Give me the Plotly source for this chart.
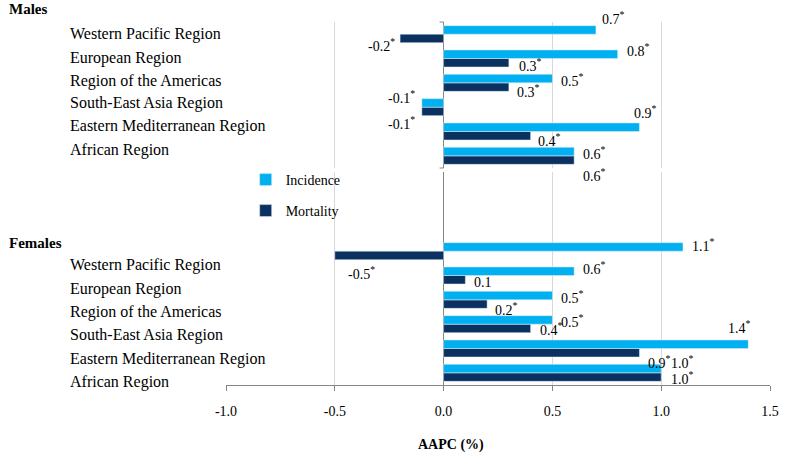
import plotly.graph_objects as go

# ---------------- data ----------------
regions = ["African Region", "Eastern Mediterranean Region", "South-East Asia Region",
           "Region of the Americas", "European Region", "Western Pacific Region"]  # bottom -> top

males_incidence = [0.6, 0.9, -0.1, 0.5, 0.8, 0.7]
males_mortality = [0.6, 0.4, -0.1, 0.3, 0.3, -0.2]
females_incidence = [1.0, 1.4, 0.5, 0.5, 0.6, 1.1]
females_mortality = [1.0, 0.9, 0.4, 0.2, 0.1, -0.5]

males_inc_sig = [True, True, True, True, True, True]
males_mort_sig = [True, True, True, True, True, True]
females_inc_sig = [True, True, True, True, True, True]
females_mort_sig = [True, True, True, True, False, True]

x_ticks = [-1.0, -0.5, 0.0, 0.5, 1.0, 1.5]
x_tick_labels = ["-1.0", "-0.5", "0.0", "0.5", "1.0", "1.5"]

# ---------------- style ----------------
C_INC = "#00B0F0"
C_MORT = "#0B3160"
GRID = "#D9D9D9"
AXIS = "#868686"
FONT = "Liberation Serif, Times New Roman, serif"

# label offsets (anchor, dx px from bar end, dy px from category centre, + = down)
m_inc_off = [("left", 7, -3), ("left", -7, -19.5), ("right", -5, -10), ("left", 7, -3), ("left", 7, -8.5), ("left", 4, -16)]
m_mort_off = [("left", 7, 19), ("left", 5, 8.5), ("right", -5, 16), ("left", 6, 8), ("left", 8, 6.5), ("right", -3, 11)]
f_inc_off = [("left", 8, -11), ("left", -22, -21.5), ("left", 7, -3), ("left", 7, -3), ("left", 7, -7.5), ("left", 7, -6)]
f_mort_off = [("left", 8, 5), ("left", 6.5, 13.5), ("left", 7, 5), ("left", 6, 9), ("left", 7, 6.5), ("left", 11, 22)]

# category label vertical shifts (px, + = down)
m_cat_dy = [-6, -5.5, -4, -2, -1, 0]
f_cat_dy = [9.2, 10.5, 11.3, 12.2, 13.5, 14.3]

fig = go.Figure()

fig.add_trace(go.Bar(x=males_mortality, y=regions, orientation="h", marker_color=C_MORT,
                     name="Mortality", xaxis="x", yaxis="y", showlegend=False))
fig.add_trace(go.Bar(x=males_incidence, y=regions, orientation="h", marker_color=C_INC,
                     name="Incidence", xaxis="x", yaxis="y", showlegend=False))
fig.add_trace(go.Bar(x=females_mortality, y=regions, orientation="h", marker_color=C_MORT,
                     name="Mortality", xaxis="x2", yaxis="y2", legend="legend2"))
fig.add_trace(go.Bar(x=females_incidence, y=regions, orientation="h", marker_color=C_INC,
                     name="Incidence", xaxis="x2", yaxis="y2", legend="legend"))

ann = []


def fmt(v, sig):
    s = f"{v:.1f}"
    return s + ("<sup>*</sup>" if sig else "")


def add_vals(vals, sigs, offs, xref, yref):
    for v, sg, r, (anc, dx, dy) in zip(vals, sigs, regions, offs):
        ann.append(dict(x=v, y=r, xref=xref, yref=yref, text=fmt(v, sg), showarrow=False,
                        xanchor=anc, yanchor="middle", xshift=dx, yshift=-dy,
                        font=dict(family=FONT, size=14, color="black")))


add_vals(males_incidence, males_inc_sig, m_inc_off, "x", "y")
add_vals(males_mortality, males_mort_sig, m_mort_off, "x", "y")
add_vals(females_incidence, females_inc_sig, f_inc_off, "x2", "y2")
add_vals(females_mortality, females_mort_sig, f_mort_off, "x2", "y2")

L, R, T, B = 226, 10, 22, 78
W, H = 789, 463
pw = W - L - R
ph = H - T - B


def px_x(px):
    return (px - L) / pw


def px_y(py):
    return (H - B - py) / ph


for r, dy in zip(regions, m_cat_dy):
    ann.append(dict(x=px_x(65), y=r, xref="paper", yref="y", text=r, showarrow=False,
                    xanchor="left", yanchor="middle", yshift=-dy,
                    font=dict(family=FONT, size=16, color="black")))
for r, dy in zip(regions, f_cat_dy):
    ann.append(dict(x=px_x(65), y=r, xref="paper", yref="y2", text=r, showarrow=False,
                    xanchor="left", yanchor="middle", yshift=-dy,
                    font=dict(family=FONT, size=16, color="black")))

ann.append(dict(x=px_x(3), y=px_y(9), xref="paper", yref="paper", text="<b>Males</b>",
                showarrow=False, xanchor="left", yanchor="middle",
                font=dict(family=FONT, size=15, color="black")))
ann.append(dict(x=px_x(3), y=px_y(243), xref="paper", yref="paper", text="<b>Females</b>",
                showarrow=False, xanchor="left", yanchor="middle",
                font=dict(family=FONT, size=15, color="black")))
ann.append(dict(x=px_x(455), y=px_y(445), xref="paper", yref="paper", text="<b>AAPC (%)</b>",
                showarrow=False, xanchor="center", yanchor="middle",
                font=dict(family=FONT, size=14, color="black")))

shapes = []
for yy in (0, 1):
    shapes.append(dict(type="line", xref="x", xsizemode="pixel", xanchor=0, x0=-4, x1=0,
                       yref="y domain", y0=yy, y1=yy, line=dict(color=AXIS, width=1)))

males_bottom = (H - B - 168) / ph
fem_top = (H - B - 172) / ph
fem_range_top = 5.5 + (385 - 172 - 146) / (146 / 6)

xcommon = dict(range=[-1.0, 1.5], tickvals=x_ticks, ticktext=x_tick_labels, showgrid=True,
               gridcolor=GRID, gridwidth=1, zeroline=True, zerolinecolor=AXIS, zerolinewidth=1)

fig.update_layout(
    width=W, height=H,
    margin=dict(l=L, r=R, t=T, b=B),
    paper_bgcolor="white", plot_bgcolor="white",
    barmode="group", bargap=0.3, bargroupgap=0,
    font=dict(family=FONT, size=14, color="black"),
    xaxis=dict(**xcommon, anchor="y", showticklabels=False, ticks="", showline=False),
    xaxis2=dict(**xcommon, anchor="y2", showticklabels=True, ticks="outside", ticklen=5,
                tickcolor=AXIS, showline=True, linecolor=AXIS, linewidth=1,
                ticklabelstandoff=8,
                tickfont=dict(family=FONT, size=14, color="black")),
    yaxis=dict(domain=[males_bottom, 1], type="category", categoryorder="array",
               categoryarray=regions, range=[-0.5, 5.5], showticklabels=False,
               showgrid=False, zeroline=False, ticks="", anchor="x"),
    yaxis2=dict(domain=[0, fem_top], type="category", categoryorder="array",
                categoryarray=regions, range=[-0.5, fem_range_top], showticklabels=False,
                showgrid=False, zeroline=False, ticks="", anchor="x2"),
    legend=dict(x=px_x(246), y=px_y(180), xanchor="left", yanchor="middle",
                bgcolor="rgba(0,0,0,0)", font=dict(family=FONT, size=14, color="black")),
    legend2=dict(x=px_x(246), y=px_y(211), xanchor="left", yanchor="middle",
                 bgcolor="rgba(0,0,0,0)", font=dict(family=FONT, size=14, color="black")),
    annotations=ann,
    shapes=shapes,
)

fig.write_html("out.html", config={"displayModeBar": False},
               post_script="document.body.style.margin='0';document.body.style.overflow='hidden';")
